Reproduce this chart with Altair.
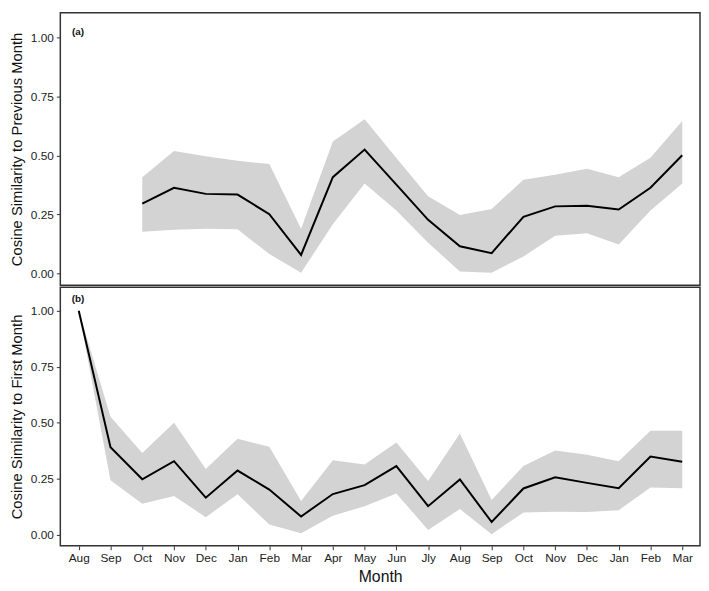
import altair as alt
import pandas as pd

months = ["Aug", "Sep", "Oct", "Nov", "Dec", "Jan", "Feb", "Mar", "Apr", "May",
          "Jun", "Jly", "Aug", "Sep", "Oct", "Nov", "Dec", "Jan", "Feb", "Mar"]

# Panel (a): cosine similarity to previous month
prev_mean = [None, None, 0.296, 0.363, 0.337, 0.334, 0.251, 0.078, 0.408, 0.525,
             0.376, 0.227, 0.115, 0.086, 0.240, 0.284, 0.287, 0.271, 0.363, 0.501]
prev_low = [None, None, 0.176, 0.185, 0.189, 0.187, 0.082, 0.003, 0.208, 0.381,
            0.267, 0.130, 0.008, 0.003, 0.072, 0.160, 0.170, 0.122, 0.267, 0.381]
prev_high = [None, None, 0.408, 0.519, 0.497, 0.477, 0.464, 0.189, 0.559, 0.653,
             0.489, 0.327, 0.247, 0.273, 0.397, 0.418, 0.444, 0.408, 0.490, 0.646]

# Panel (b): cosine similarity to first month
first_mean = [1.000, 0.390, 0.247, 0.328, 0.165, 0.286, 0.201, 0.081, 0.181, 0.221,
              0.306, 0.127, 0.246, 0.056, 0.206, 0.256, 0.231, 0.207, 0.349, 0.325]
first_low = [1.000, 0.243, 0.138, 0.172, 0.078, 0.180, 0.045, 0.006, 0.084, 0.127,
             0.184, 0.020, 0.114, 0.002, 0.099, 0.102, 0.101, 0.109, 0.210, 0.207]
first_high = [1.000, 0.526, 0.364, 0.500, 0.293, 0.428, 0.392, 0.150, 0.332, 0.313,
              0.411, 0.239, 0.451, 0.155, 0.306, 0.375, 0.356, 0.328, 0.464, 0.464]

y_ticks = [0.0, 0.25, 0.5, 0.75, 1.0]
FONT = "Liberation Sans"


def make_df(mean, low, high):
    rows = []
    for i, (m, lo, hi) in enumerate(zip(mean, low, high)):
        if m is None:
            continue
        rows.append({"idx": i, "month": months[i], "mean": m, "low": lo, "high": hi})
    return pd.DataFrame(rows)


df_a = make_df(prev_mean, prev_low, prev_high)
df_b = make_df(first_mean, first_low, first_high)

label_expr = "[" + ",".join("'" + m + "'" for m in months) + "][datum.value]"
x_scale = alt.Scale(domain=[-0.58, len(months) - 1 + 0.56], nice=False, zero=False)
y_scale = alt.Scale(domain=[-0.05, 1.105], nice=False, zero=False)


def panel(df, ytitle, tag, tag_y, h, show_x):
    if show_x:
        xaxis = alt.Axis(values=list(range(len(months))), labelExpr=label_expr,
                         tickCount=len(months) + 5,
                         title="Month", titleFontSize=16, titleFontWeight="normal",
                         labelFontSize=12, labelColor="#222", titleColor="#111",
                         tickColor="#333", tickSize=4, domain=False, grid=False,
                         labelPadding=3, titlePadding=5, labelOverlap=False,
                         labelBound=False)
    else:
        xaxis = None
    yaxis = alt.Axis(values=y_ticks, format=".2f", title=ytitle, titleFontSize=15,
                     tickCount=10,
                     titleFontWeight="normal", labelFontSize=12, labelColor="#222",
                     titleColor="#111", tickColor="#333", tickSize=4, domain=False,
                     grid=False, labelPadding=3, titlePadding=6, labelOverlap=False)
    base = alt.Chart(df)
    band = base.mark_area(color="#d3d3d3", opacity=1).encode(
        x=alt.X("idx:Q", scale=x_scale, axis=xaxis),
        y=alt.Y("low:Q", scale=y_scale, axis=yaxis),
        y2="high:Q",
    )
    line = base.mark_line(color="black", strokeWidth=2).encode(
        x=alt.X("idx:Q", scale=x_scale),
        y=alt.Y("mean:Q", scale=y_scale),
    )
    txt = alt.Chart(pd.DataFrame({"t": [tag]})).mark_text(
        fontWeight="bold", fontSize=10, font=FONT, color="#111"
    ).encode(text="t:N", x=alt.value(18), y=alt.value(tag_y))
    return alt.layer(band, line, txt).properties(width=648, height=h)


top = panel(df_a, "Cosine Similarity to Previous Month", "(a)", 20, 276, False)
bottom = panel(df_b, "Cosine Similarity to First Month", "(b)", 12, 262, True)

chart = alt.vconcat(top, bottom, spacing=0).configure(
    font=FONT, padding=0
).configure_view(
    stroke="#333", strokeWidth=1.5
).configure_axis(
    labelFont=FONT, titleFont=FONT
)

chart.save("out.html", embed_options={"renderer": "svg", "actions": False})
